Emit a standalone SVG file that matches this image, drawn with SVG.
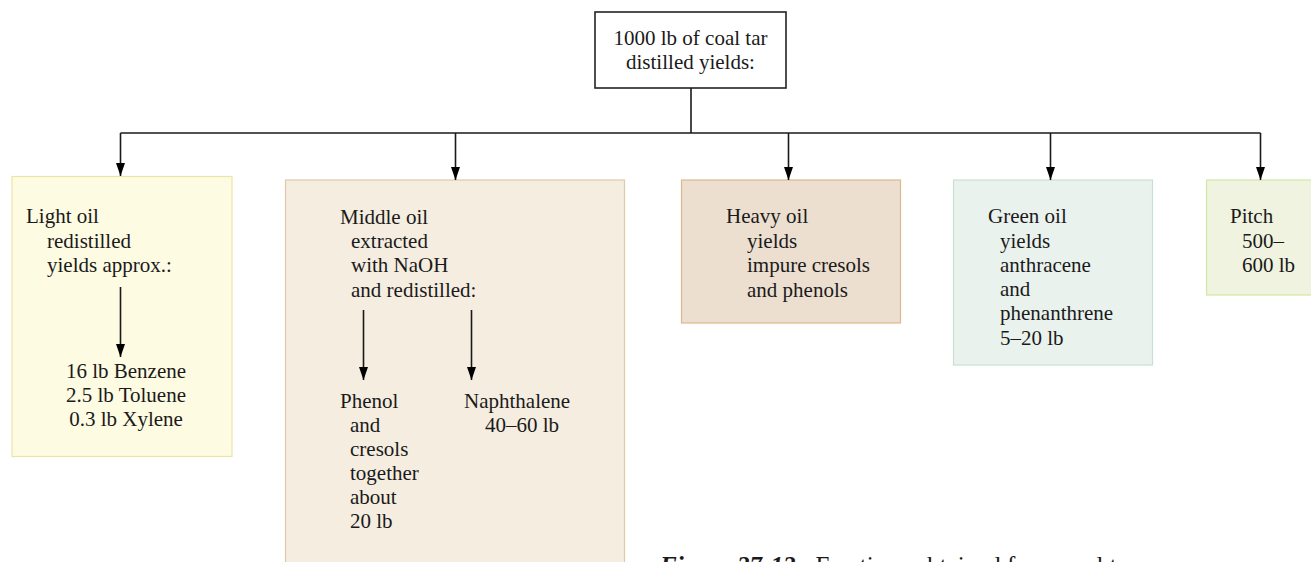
<svg xmlns="http://www.w3.org/2000/svg" width="1311" height="562" viewBox="0 0 1311 562">
  <style>
    text { font-family: "Liberation Serif", "Times New Roman", serif; font-size: 21px; fill: #1a1a1a; }
    .edge { stroke: #1a1a1a; stroke-width: 1.6; fill: none; }
    .caption { font-size: 25px; }
  </style>
  <defs>
    <marker id="arrow" viewBox="0 0 13 10" refX="13" refY="5" markerWidth="13" markerHeight="10" markerUnits="userSpaceOnUse" orient="auto">
      <path d="M0,0.5 L13,5 L0,9.5 Z" fill="#000"/>
    </marker>
  </defs>
  <rect width="1311" height="562" fill="#fff"/>

  <!-- source -->
  <g id="coal-tar">
    <rect x="595" y="12" width="191" height="76" fill="#fff" stroke="#222" stroke-width="1.6"/>
    <text x="690.5" y="45" text-anchor="middle">1000 lb of coal tar</text>
    <text x="690.5" y="69" text-anchor="middle">distilled yields:</text>
  </g>

  <!-- fractions -->
  <g id="light-oil">
    <rect x="12" y="176.5" width="220" height="280" fill="#fdfbe2" stroke="#ece6a6" stroke-width="1.2"/>
    <text x="26" y="223">Light oil</text>
    <text x="47" y="248">redistilled</text>
    <text x="47" y="272">yields approx.:</text>
    <text x="126" y="378" text-anchor="middle">16 lb Benzene</text>
    <text x="126" y="402" text-anchor="middle">2.5 lb Toluene</text>
    <text x="126" y="426" text-anchor="middle">0.3 lb Xylene</text>
  </g>

  <g id="middle-oil">
    <rect x="285.5" y="180" width="339" height="400" fill="#f5ede0" stroke="#e2c8a8" stroke-width="1.2"/>
    <text x="340" y="224">Middle oil</text>
    <text x="351" y="248">extracted</text>
    <text x="351" y="272">with NaOH</text>
    <text x="351" y="297">and redistilled:</text>
    <text x="340" y="408">Phenol</text>
    <text x="350" y="432">and</text>
    <text x="350" y="456">cresols</text>
    <text x="350" y="480">together</text>
    <text x="350" y="504">about</text>
    <text x="350" y="528">20 lb</text>
    <text x="464" y="408">Naphthalene</text>
    <text x="485" y="432">40–60 lb</text>
  </g>

  <g id="heavy-oil">
    <rect x="681.5" y="180" width="219" height="143" fill="#ecdfd0" stroke="#dcb890" stroke-width="1.2"/>
    <text x="726" y="223">Heavy oil</text>
    <text x="747" y="248">yields</text>
    <text x="747" y="272">impure cresols</text>
    <text x="747" y="297">and phenols</text>
  </g>

  <g id="green-oil">
    <rect x="953.5" y="180" width="199" height="185" fill="#eaf2ee" stroke="#c6e0d6" stroke-width="1.2"/>
    <text x="988" y="223">Green oil</text>
    <text x="1000" y="248">yields</text>
    <text x="1000" y="272">anthracene</text>
    <text x="1000" y="296">and</text>
    <text x="1000" y="320">phenanthrene</text>
    <text x="1000" y="345">5–20 lb</text>
  </g>

  <g id="pitch">
    <rect x="1206.5" y="180" width="120" height="115" fill="#eff3df" stroke="#d2e6a6" stroke-width="1.2"/>
    <text x="1230" y="223">Pitch</text>
    <text x="1242" y="248">500–</text>
    <text x="1242" y="272">600 lb</text>
  </g>

  <!-- connectors -->
  <g id="connectors">
    <path class="edge" d="M691,88 V133"/>
    <path class="edge" d="M120.5,133 H1260.5"/>
    <path class="edge" d="M120.5,133 V176" marker-end="url(#arrow)"/>
    <path class="edge" d="M455.5,133 V180" marker-end="url(#arrow)"/>
    <path class="edge" d="M788.5,133 V180" marker-end="url(#arrow)"/>
    <path class="edge" d="M1050.5,133 V180" marker-end="url(#arrow)"/>
    <path class="edge" d="M1260.5,133 V180" marker-end="url(#arrow)"/>
    <path class="edge" d="M120.5,287 V357" marker-end="url(#arrow)"/>
    <path class="edge" d="M363.5,310 V380" marker-end="url(#arrow)"/>
    <path class="edge" d="M471.5,310 V380" marker-end="url(#arrow)"/>
  </g>

  <!-- caption, running off the lower edge of the sheet -->
  <text class="caption" x="660" y="574"><tspan font-weight="bold" font-style="italic">Figure 27-12</tspan><tspan dx="20">Fractions obtained from coal tar</tspan></text>
</svg>
